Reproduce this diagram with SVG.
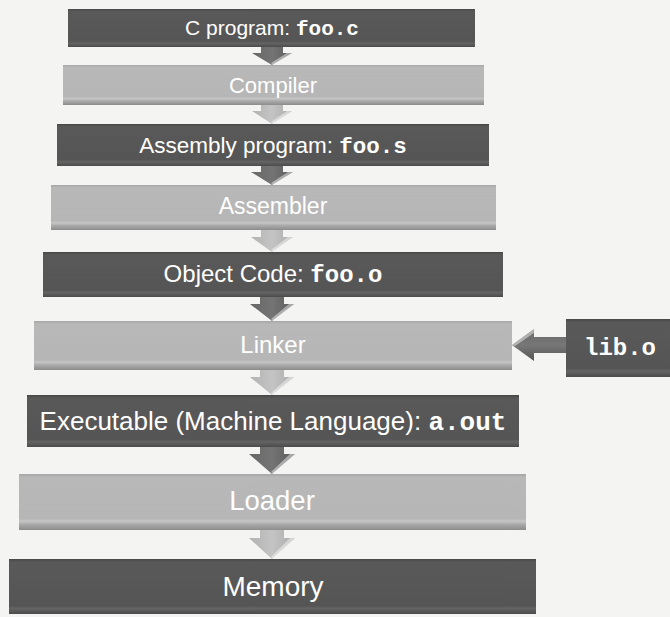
<svg xmlns="http://www.w3.org/2000/svg" width="670" height="617" viewBox="0 0 670 617">
  <defs>
    <linearGradient id="gDark" x1="0" y1="0" x2="0" y2="1">
      <stop offset="0" stop-color="#474747"/>
      <stop offset="0.06" stop-color="#595959"/>
      <stop offset="0.85" stop-color="#555555"/>
      <stop offset="0.9" stop-color="#646464"/>
      <stop offset="1" stop-color="#4b4b4b"/>
    </linearGradient>
    <linearGradient id="gLight" x1="0" y1="0" x2="0" y2="1">
      <stop offset="0" stop-color="#a6a6a6"/>
      <stop offset="0.06" stop-color="#b8b8b8"/>
      <stop offset="0.8" stop-color="#b6b6b6"/>
      <stop offset="0.84" stop-color="#c6c6c6"/>
      <stop offset="0.9" stop-color="#aaaaaa"/>
      <stop offset="1" stop-color="#8c8c8c"/>
    </linearGradient>
    <linearGradient id="gArrowDark" x1="0" y1="0" x2="1" y2="0">
      <stop offset="0" stop-color="#676767"/>
      <stop offset="0.5" stop-color="#747474"/>
      <stop offset="1" stop-color="#5b5b5b"/>
    </linearGradient>
    <linearGradient id="gArrowLight" x1="0" y1="0" x2="1" y2="0">
      <stop offset="0" stop-color="#b2b2b2"/>
      <stop offset="0.5" stop-color="#c4c4c4"/>
      <stop offset="1" stop-color="#acacac"/>
    </linearGradient>
    <linearGradient id="gSideArrow" x1="0" y1="0" x2="0" y2="1">
      <stop offset="0" stop-color="#676767"/>
      <stop offset="0.5" stop-color="#777777"/>
      <stop offset="1" stop-color="#555555"/>
    </linearGradient>
  </defs>
  <style>
    .dark { fill: url(#gDark); }
    .light { fill: url(#gLight); }
    .aDark { fill: url(#gArrowDark); }
    .aLight { fill: url(#gArrowLight); }
    .hi { fill: #ffffff; opacity: 0.45; }
    .lbl { font-family: "Liberation Sans", Arial, sans-serif; fill: #ffffff; text-anchor: middle; }
    .code { font-family: "Liberation Mono", "Courier New", monospace; font-weight: bold; }
  </style>

  <!-- paper -->
  <rect x="0" y="0" width="670" height="617" fill="#f4f4f2"/>

  <!-- flow arrows (drawn first so each shaft tucks under the box above) -->
  <g id="connectors">
    <path class="aDark" d="M261 46 L283 46 L283 53 L292 53 L272 65 L252 53 L261 53 Z"/>
    <path class="hi" d="M287 53 L292 53 L273 65 L271 63 Z"/>

    <path class="aLight" d="M261 104 L283 104 L283 111 L292 111 L272 124 L252 111 L261 111 Z"/>
    <path class="hi" d="M287 111 L292 111 L273 124 L271 122 Z"/>

    <path class="aDark" d="M261 165 L283 165 L283 172 L293 172 L272 185 L251 172 L261 172 Z"/>
    <path class="hi" d="M288 172 L293 172 L273 185 L271 183 Z"/>

    <path class="aLight" d="M261 229 L283 229 L283 237 L293 237 L272 252 L251 237 L261 237 Z"/>
    <path class="hi" d="M288 237 L293 237 L273 252 L271 250 Z"/>

    <path class="aDark" d="M260 296 L284 296 L284 304 L294 304 L272 321 L250 304 L260 304 Z"/>
    <path class="hi" d="M289 304 L294 304 L273 321 L271 319 Z"/>

    <path class="aLight" d="M260 369 L284 369 L284 377 L294 377 L272 395 L250 377 L260 377 Z"/>
    <path class="hi" d="M289 377 L294 377 L273 395 L271 393 Z"/>

    <path class="aDark" d="M260 446 L284 446 L284 454 L295 454 L272 474 L249 454 L260 454 Z"/>
    <path class="hi" d="M290 454 L295 454 L273 474 L271 472 Z"/>

    <path class="aLight" d="M260 529 L284 529 L284 538 L295 538 L272 559 L249 538 L260 538 Z"/>
    <path class="hi" d="M290 538 L295 538 L273 559 L271 557 Z"/>

    <!-- library feeding the linker -->
    <path fill="url(#gSideArrow)" d="M568 337 L534 337 L534 329 L512 345 L534 361 L534 353 L568 353 Z"/>
    <path class="hi" d="M534 329 L534 333 L515 346 L512 345 Z"/>
  </g>

  <g id="c-program">
    <rect class="dark" x="68" y="9" width="407" height="38"/>
    <text class="lbl" x="272" y="35" font-size="21">C program: <tspan class="code">foo.c</tspan></text>
  </g>

  <g id="compiler">
    <rect class="light" x="63" y="65" width="421" height="40"/>
    <text class="lbl" x="273" y="93" font-size="22">Compiler</text>
  </g>

  <g id="assembly-program">
    <rect class="dark" x="57" y="124" width="432" height="42"/>
    <text class="lbl" x="273" y="153" font-size="22.5">Assembly program: <tspan class="code">foo.s</tspan></text>
  </g>

  <g id="assembler">
    <rect class="light" x="51" y="185" width="445" height="45"/>
    <text class="lbl" x="273" y="214" font-size="23">Assembler</text>
  </g>

  <g id="object-code">
    <rect class="dark" x="43" y="252" width="460" height="45"/>
    <text class="lbl" x="273" y="282" font-size="24">Object Code: <tspan class="code">foo.o</tspan></text>
  </g>

  <g id="linker">
    <rect class="light" x="34" y="321" width="478" height="49"/>
    <text class="lbl" x="273" y="353" font-size="24">Linker</text>
  </g>

  <g id="lib-o">
    <rect class="dark" x="566" y="319" width="104" height="58"/>
    <text class="lbl code" x="620" y="355" font-size="24">lib.o</text>
  </g>

  <g id="executable">
    <rect class="dark" x="27" y="395" width="492" height="52"/>
    <text class="lbl" x="273" y="430" font-size="26">Executable (Machine Language): <tspan class="code">a.out</tspan></text>
  </g>

  <g id="loader">
    <rect class="light" x="19" y="474" width="507" height="56"/>
    <text class="lbl" x="272" y="510" font-size="27.5">Loader</text>
  </g>

  <g id="memory">
    <rect class="dark" x="9" y="559" width="527" height="55"/>
    <text class="lbl" x="273" y="596" font-size="28">Memory</text>
  </g>
</svg>
